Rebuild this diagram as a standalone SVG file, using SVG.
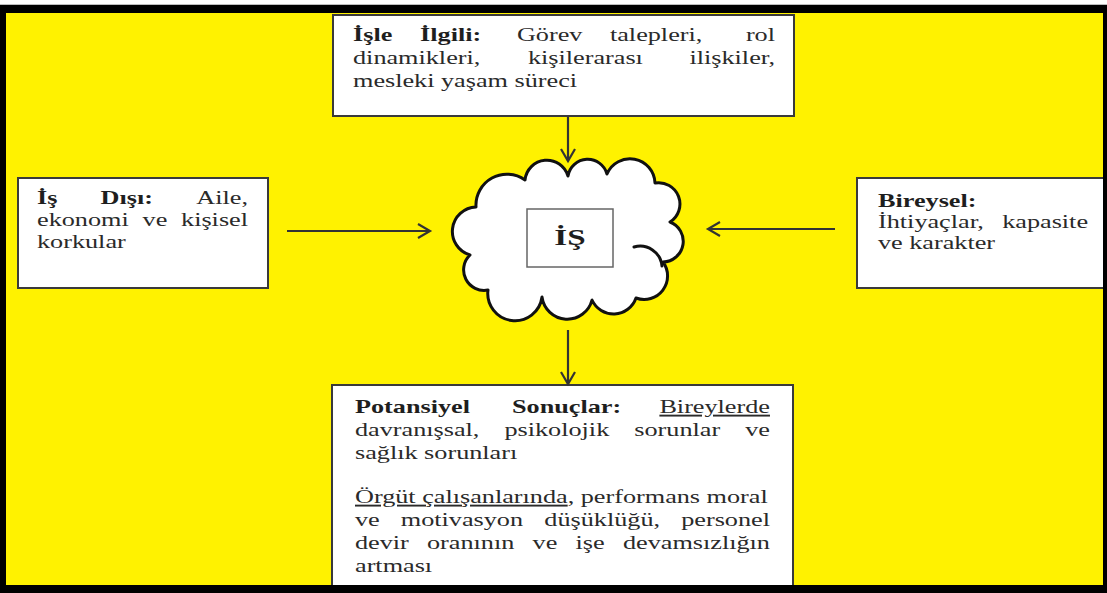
<svg xmlns="http://www.w3.org/2000/svg" width="1107" height="593" viewBox="0 0 1107 593">
  <defs>
    <marker id="chev" markerUnits="userSpaceOnUse" markerWidth="16" markerHeight="18" refX="13" refY="8" orient="auto">
      <path d="M1,1 L13,8 L1,15" fill="none" stroke="#333" stroke-width="2.2" stroke-linejoin="miter"/>
    </marker>
    <style>
      .box { fill: #ffffff; stroke: #3a3a3a; stroke-width: 2; }
      .t { font-family: "Liberation Serif", "Times New Roman", serif; font-size: 19px; fill: #2a2a2a; }
      .b { font-weight: bold; fill: #1e1e1e; }
      .e { text-anchor: end; }
      .u { text-decoration: underline; }
      .link { stroke: #333; stroke-width: 2.2; fill: none; marker-end: url(#chev); }
    </style>
  </defs>

  <!-- page frame -->
  <rect x="0" y="0" width="1107" height="593" fill="#ffffff"/>
  <rect x="0" y="5" width="1107" height="588" fill="#000000"/>
  <rect x="6" y="13" width="1097" height="572" fill="#fff200"/>

  <!-- top node: work-related factors -->
  <g id="node-work-related">
    <rect class="box" x="333" y="15" width="461" height="101"/>
    <g transform="translate(353,0) scale(1.38,1)">
      <text class="t b" x="0" y="41">İşle</text>
      <text class="t b" x="48.6" y="41">İlgili:</text>
      <text class="t" x="118.8" y="41">Görev</text>
      <text class="t" x="186.2" y="41">talepleri,</text>
      <text class="t e" x="305.8" y="41">rol</text>
      <text class="t" x="0" y="64">dinamikleri,</text>
      <text class="t" x="126.8" y="64">kişilerarası</text>
      <text class="t e" x="305.8" y="64">ilişkiler,</text>
      <text class="t" x="0" y="87">mesleki yaşam süreci</text>
    </g>
  </g>

  <!-- left node: non-work factors -->
  <g id="node-non-work">
    <rect class="box" x="18" y="178" width="250" height="110"/>
    <g transform="translate(37,0) scale(1.38,1)">
      <text class="t b" x="0" y="204">İş</text>
      <text class="t b" x="46.1" y="204">Dışı:</text>
      <text class="t e" x="152.9" y="204">Aile,</text>
      <text class="t" x="0" y="226">ekonomi</text>
      <text class="t" x="76.5" y="226">ve</text>
      <text class="t e" x="152.9" y="226">kişisel</text>
      <text class="t" x="0" y="248">korkular</text>
    </g>
  </g>

  <!-- right node: individual factors -->
  <g id="node-individual">
    <rect class="box" x="857" y="178" width="248" height="110"/>
    <g transform="translate(878,0) scale(1.38,1)">
      <text class="t b" x="0" y="207">Bireysel:</text>
      <text class="t" x="0" y="228">İhtiyaçlar,</text>
      <text class="t e" x="152.2" y="228">kapasite</text>
      <text class="t" x="0" y="249">ve karakter</text>
    </g>
  </g>

  <!-- centre node: cloud -->
  <g id="node-is">
    <path d="M476,207
             A31,31 0 0 1 525,180
             A22,22 0 0 1 568,176
             A20,20 0 0 1 607,174
             A25,25 0 0 1 655,183
             A21.3,21.3 0 0 1 670,222
             A20.7,20.7 0 0 1 663,262
             A23.5,23.5 0 0 1 636,298
             A23.7,23.7 0 0 1 592,300
             A25.5,25.5 0 0 1 542,297
             A27,27 0 0 1 488,290
             A20.5,20.5 0 0 1 470,255
             A24.5,24.5 0 0 1 476,207 Z"
          fill="#ffffff" stroke="#111" stroke-width="3" stroke-linejoin="round"/>
    <path d="M634,247 A22,22 0 0 1 662,266" fill="none" stroke="#111" stroke-width="3" stroke-linecap="round"/>
    <rect x="527" y="209" width="86" height="58" fill="#ffffff" stroke="#666" stroke-width="1.5"/>
    <g transform="translate(570,0) scale(1.38,1)">
      <text class="t b" x="0" y="245" text-anchor="middle" style="font-size:24px">İŞ</text>
    </g>
  </g>

  <!-- bottom node: potential outcomes -->
  <g id="node-outcomes">
    <rect class="box" x="332" y="385" width="461" height="206"/>
    <g transform="translate(355,0) scale(1.38,1)">
      <text class="t b" x="0" y="413">Potansiyel</text>
      <text class="t b" x="113.8" y="413">Sonuçlar:</text>
      <text class="t e u" x="300.7" y="413">Bireylerde</text>
      <text class="t" x="0" y="436">davranışsal,</text>
      <text class="t" x="108.3" y="436">psikolojik</text>
      <text class="t" x="202.4" y="436">sorunlar</text>
      <text class="t e" x="300.7" y="436">ve</text>
      <text class="t" x="0" y="459">sağlık sorunları</text>
      <text class="t" x="0" y="503"><tspan class="u">Örgüt çalışanlarında</tspan>, performans moral</text>
      <text class="t" x="0" y="526">ve</text>
      <text class="t" x="33.2" y="526">motivasyon</text>
      <text class="t" x="137.2" y="526">düşüklüğü,</text>
      <text class="t e" x="300.7" y="526">personel</text>
      <text class="t" x="0" y="549">devir</text>
      <text class="t" x="52.2" y="549">oranının</text>
      <text class="t" x="128.7" y="549">ve</text>
      <text class="t" x="159.8" y="549">işe</text>
      <text class="t e" x="300.7" y="549">devamsızlığın</text>
      <text class="t" x="0" y="572">artması</text>
    </g>
  </g>

  <!-- connectors -->
  <g id="connectors">
    <line class="link" x1="568" y1="117" x2="568" y2="161"/>
    <line class="link" x1="287" y1="231" x2="430" y2="231"/>
    <line class="link" x1="835" y1="229" x2="708" y2="229"/>
    <line class="link" x1="568" y1="330" x2="568" y2="384"/>
  </g>

  <!-- frame edges drawn over the clipped boxes -->
  <rect x="1103" y="5" width="4" height="588" fill="#000000"/>
  <rect x="0" y="585" width="1107" height="8" fill="#000000"/>
  <line x1="0" y1="4.5" x2="1107" y2="4.5" stroke="#bdbdbd" stroke-width="1"/>
</svg>
